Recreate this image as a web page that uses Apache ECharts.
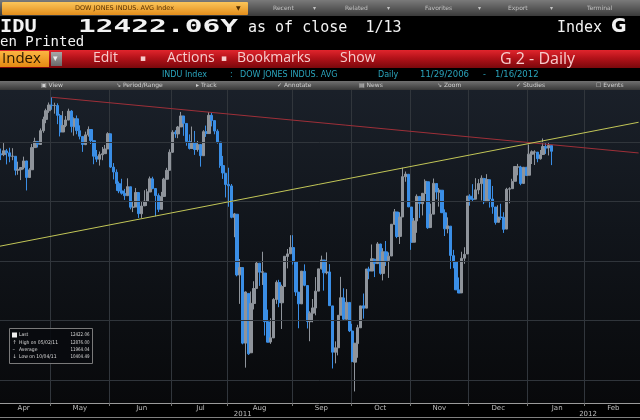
<!DOCTYPE html>
<html><head><meta charset="utf-8">
<script src="https://cdn.jsdelivr.net/npm/echarts@6/dist/echarts.min.js"></script>
<style>html,body{margin:0;padding:0;background:#000;}#c{width:640px;height:420px;}</style>
</head><body><div id="c"></div>
<script>
const dates = [
'2011-04-04','2011-04-05','2011-04-06','2011-04-07','2011-04-08','2011-04-11','2011-04-12','2011-04-13','2011-04-14','2011-04-15','2011-04-18','2011-04-19','2011-04-20','2011-04-21','2011-04-25','2011-04-26','2011-04-27','2011-04-28','2011-04-29',
'2011-05-02','2011-05-03','2011-05-04','2011-05-05','2011-05-06','2011-05-09','2011-05-10','2011-05-11','2011-05-12','2011-05-13','2011-05-16','2011-05-17','2011-05-18','2011-05-19','2011-05-20','2011-05-23','2011-05-24','2011-05-25','2011-05-26','2011-05-27','2011-05-31',
'2011-06-01','2011-06-02','2011-06-03','2011-06-06','2011-06-07','2011-06-08','2011-06-09','2011-06-10','2011-06-13','2011-06-14','2011-06-15','2011-06-16','2011-06-17','2011-06-20','2011-06-21','2011-06-22','2011-06-23','2011-06-24','2011-06-27','2011-06-28','2011-06-29','2011-06-30',
'2011-07-01','2011-07-05','2011-07-06','2011-07-07','2011-07-08','2011-07-11','2011-07-12','2011-07-13','2011-07-14','2011-07-15','2011-07-18','2011-07-19','2011-07-20','2011-07-21','2011-07-22','2011-07-25','2011-07-26','2011-07-27','2011-07-28','2011-07-29',
'2011-08-01','2011-08-02','2011-08-03','2011-08-04','2011-08-05','2011-08-08','2011-08-09','2011-08-10','2011-08-11','2011-08-12','2011-08-15','2011-08-16','2011-08-17','2011-08-18','2011-08-19','2011-08-22','2011-08-23','2011-08-24','2011-08-25','2011-08-26','2011-08-29','2011-08-30','2011-08-31',
'2011-09-01','2011-09-02','2011-09-06','2011-09-07','2011-09-08','2011-09-09','2011-09-12','2011-09-13','2011-09-14','2011-09-15','2011-09-16','2011-09-19','2011-09-20','2011-09-21','2011-09-22','2011-09-23','2011-09-26','2011-09-27','2011-09-28','2011-09-29','2011-09-30',
'2011-10-03','2011-10-04','2011-10-05','2011-10-06','2011-10-07','2011-10-10','2011-10-11','2011-10-12','2011-10-13','2011-10-14','2011-10-17','2011-10-18','2011-10-19','2011-10-20','2011-10-21','2011-10-24','2011-10-25','2011-10-26','2011-10-27','2011-10-28','2011-10-31',
'2011-11-01','2011-11-02','2011-11-03','2011-11-04','2011-11-07','2011-11-08','2011-11-09','2011-11-10','2011-11-11','2011-11-14','2011-11-15','2011-11-16','2011-11-17','2011-11-18','2011-11-21','2011-11-22','2011-11-23','2011-11-25','2011-11-28','2011-11-29','2011-11-30',
'2011-12-01','2011-12-02','2011-12-05','2011-12-06','2011-12-07','2011-12-08','2011-12-09','2011-12-12','2011-12-13','2011-12-14','2011-12-15','2011-12-16','2011-12-19','2011-12-20','2011-12-21','2011-12-22','2011-12-23','2011-12-27','2011-12-28','2011-12-29','2011-12-30',
'2012-01-03','2012-01-04','2012-01-05','2012-01-06','2012-01-09','2012-01-10','2012-01-11','2012-01-12','2012-01-13','2012-01-17','2012-01-18','2012-01-19','2012-01-20','2012-01-23','2012-01-24','2012-01-25','2012-01-26','2012-01-27','2012-01-30','2012-01-31',
'2012-02-01','2012-02-02','2012-02-03','2012-02-06','2012-02-07','2012-02-08','2012-02-09','2012-02-10','2012-02-13','2012-02-14','2012-02-15','2012-02-16','2012-02-17','2012-02-21','2012-02-22','2012-02-23','2012-02-24','2012-02-27','2012-02-28','2012-02-29'
];
const opens = [
12377,12400,12394,12425,12409,12380,12380,12263,12268,12285,12341,12202,12267,12453,12505,12479,12595,12690,12763,
12810,12806,12807,12722,12584,12638,12684,12760,12628,12695,12595,12547,12478,12560,12605,12511,12381,12355,12393,12402,12442,
12569,12289,12246,12150,12089,12069,12049,12124,11952,11954,12075,11897,11963,12003,12080,12190,12109,12050,11934,12043,12187,12262,
12414,12582,12568,12627,12719,12656,12505,12446,12492,12437,12479,12385,12587,12571,12724,12680,12591,12500,12302,12238,
12144,12131,11866,11893,11384,11445,10810,11228,10729,11143,11270,11482,11405,11399,10989,10820,10854,11176,11320,11149,11286,11538,11561,
11613,11492,11239,11140,11414,11294,10990,11062,11105,11247,11434,11508,11402,11408,11123,10733,10771,11045,11190,11010,11152,
10912,10650,10806,10939,11124,11104,11432,11416,11516,11478,11643,11396,11577,11504,11542,11808,11912,11707,11870,12208,12229,
11954,11658,11836,12043,11981,12068,12166,11781,11894,12151,12078,12095,11905,11771,11793,11545,11493,11257,11232,11524,11559,
12045,12021,12020,12097,12150,12193,11999,12183,12021,11954,11825,11869,11867,11768,12104,12108,12170,12290,12290,12152,12288,
12221,12397,12415,12415,12359,12395,12460,12450,12471
];
const closes = [
12400,12393,12426,12409,12380,12381,12263,12270,12285,12341,12202,12266,12453,12505,12480,12595,12690,12763,12811,
12807,12808,12724,12584,12639,12685,12760,12630,12695,12596,12548,12479,12560,12606,12512,12381,12356,12394,12402,12441,12570,
12290,12248,12151,12089,12070,12049,12125,11952,11953,12076,11898,11962,12004,12081,12191,12110,12050,11934,12043,12188,12262,12414,
12582,12569,12626,12719,12657,12505,12446,12491,12437,12479,12385,12587,12571,12724,12681,12592,12501,12302,12240,12143,
12132,11867,11896,11383,11445,10810,11240,10720,11144,11269,11483,11406,11410,10991,10818,10855,11177,11321,11150,11285,11540,11560,11614,
11494,11240,11140,11415,11296,10992,11062,11106,11247,11434,11509,11401,11408,11125,10734,10771,11044,11191,11011,11154,10913,
10655,10809,10940,11123,11103,11433,11416,11519,11478,11644,11397,11577,11505,11541,11809,11913,11706,11869,12209,12231,11955,
11657,11836,12044,11983,12069,12170,11780,11894,12153,12079,12096,11906,11771,11796,11547,11494,11258,11231,11523,11556,12046,
12020,12019,12098,12151,12196,11998,12184,12021,11955,11824,11869,11866,11766,12103,12107,12169,12294,12291,12151,12288,12218,
12398,12418,12416,12360,12393,12462,12449,12471,12422
];
const lows = [
12361,12348,12381,12312,12330,12347,12220,12225,12180,12270,12093,12201,12267,12453,12454,12479,12578,12658,12745,
12771,12738,12650,12547,12584,12625,12684,12580,12553,12565,12522,12417,12474,12545,12483,12313,12331,12302,12347,12402,12442,
12283,12186,12090,12070,12058,12013,12049,11934,11911,11954,11862,11862,11963,11963,12080,12103,11875,11911,11930,12043,12187,12262,
12410,12535,12532,12627,12552,12469,12437,12446,12392,12419,12293,12385,12543,12571,12631,12565,12486,12283,12190,12034,
11956,11859,11700,11371,11140,10800,10604,10711,10729,11093,11270,11291,11299,10874,10816,10804,10854,11140,11112,10929,11286,11438,11558,
11470,11207,10935,11140,11288,10933,10826,10985,11044,11247,11429,11251,11388,11124,10597,10640,10707,11045,11003,11010,10903,
10650,10404,10687,10938,11016,11104,11347,11416,11365,11478,11385,11337,11459,11358,11542,11808,11692,11643,11870,12166,11953,
11594,11658,11737,11862,11883,12001,11770,11781,11894,12018,11957,11903,11710,11733,11434,11439,11257,11231,11232,11477,11559,
11965,12004,12020,12061,12009,11978,11999,11949,11897,11806,11825,11845,11736,11768,11985,12108,12170,12220,12137,12152,12218,
12221,12315,12307,12330,12352,12395,12400,12387,12306
];
const highs = [
12438,12445,12491,12442,12452,12448,12381,12335,12290,12377,12342,12280,12484,12536,12507,12614,12713,12780,12832,
12876,12830,12825,12736,12760,12718,12780,12768,12707,12723,12640,12548,12587,12631,12605,12511,12433,12420,12458,12475,12582,
12569,12323,12270,12168,12191,12106,12195,12124,12005,12114,12075,12003,12095,12106,12210,12208,12072,12068,12081,12199,12283,12438,
12599,12599,12635,12753,12719,12656,12564,12630,12593,12509,12479,12599,12638,12752,12744,12681,12607,12500,12383,12238,
12284,12147,11904,11893,11517,11445,11245,11228,11244,11330,11499,11482,11578,11399,11092,11019,11188,11337,11342,11301,11540,11601,11717,
11717,11492,11239,11415,11472,11294,11078,11181,11365,11434,11545,11508,11573,11474,11123,10825,11044,11367,11271,11264,11152,
10972,10812,10964,11123,11227,11433,11452,11639,11517,11659,11645,11608,11668,11572,11809,11937,11912,11910,12284,12252,12229,
11954,11861,12060,12043,12072,12186,12166,11982,12193,12151,12114,12095,11934,11867,11793,11594,11493,11362,11578,11616,12046,
12061,12146,12196,12188,12220,12199,12230,12183,12131,11954,11968,11981,11910,12115,12120,12191,12294,12316,12300,12288,12288,
12479,12430,12431,12416,12433,12530,12490,12500,12471
];
const gridValues = [10500, 11000, 11500, 12000, 12500];
const redTrend = [['2011-05-02', 12876], ['2012-02-29', 12408]];
const yellowTrend = [['2011-04-04', 11622], ['2012-02-29', 12666]];
const yearLabels = [['2011-08-08', '2011'], ['2012-02-02', '2012']];
const legendLabels = ['Last', 'High on 05/02/11', 'Average', 'Low on 10/04/11'];
const legendValues = ['12422.06', '12876.00', '11964.04', '10404.49'];
const monthNames = ['Jan','Feb','Mar','Apr','May','Jun','Jul','Aug','Sep','Oct','Nov','Dec'];

const candle = opens.map((o, i) => [o, closes[i], lows[i], highs[i]]);
const monthStart = new Set(), monthLabelIdx = new Set();
let s0 = 0;
for (let i = 1; i <= dates.length; i++) {
  if (i === dates.length || dates[i].slice(0, 7) !== dates[i - 1].slice(0, 7)) {
    monthStart.add(s0);
    monthLabelIdx.add(s0 + Math.floor((i - s0) / 2));
    s0 = i;
  }
}
const yearIdx = new Map(yearLabels.map(y => [dates.indexOf(y[0]), y[1]]));
const janIdx = dates.indexOf('2012-01-03');

const chart = echarts.init(document.getElementById('c'), null, {renderer: 'canvas'});
const G = echarts.graphic.LinearGradient;
const mono = '"DejaVu Sans Mono"';
function txt(x, y, text, font, fill, extra, align) {
  return Object.assign({type: 'text', x: x, y: y, z: 10, silent: true,
    style: {text: text, font: font, fill: fill, align: align || 'left', verticalAlign: 'middle'}}, extra || {});
}
const elements = [
  {type: 'rect', shape: {x: 0, y: 0, width: 640, height: 16}, style: {fill: new G(0, 0, 0, 1, [{offset: 0, color: '#7a7a7a'}, {offset: 1, color: '#3a3a3a'}])}, z: 5},
  {type: 'rect', shape: {x: 2, y: 2, width: 246, height: 13, r: 1}, style: {fill: new G(0, 0, 0, 1, [{offset: 0, color: '#fbc55a'}, {offset: 1, color: '#e38e1c'}])}, z: 6},
  txt(75, 8.5, 'DOW JONES INDUS. AVG Index', '6.5px "DejaVu Sans"', '#5a3200'),
  txt(236, 8.5, '▼', '6px "DejaVu Sans"', '#4a2a00'),
  txt(273, 8.5, 'Recent', '6px "DejaVu Sans"', '#c4c4c4'),
  txt(313, 8.5, '▾', '6px "DejaVu Sans"', '#c4c4c4'),
  txt(345, 8.5, 'Related', '6px "DejaVu Sans"', '#c4c4c4'),
  txt(387, 8.5, '▾', '6px "DejaVu Sans"', '#c4c4c4'),
  txt(425, 8.5, 'Favorites', '6px "DejaVu Sans"', '#c4c4c4'),
  txt(478, 8.5, '▾', '6px "DejaVu Sans"', '#c4c4c4'),
  txt(508, 8.5, 'Export', '6px "DejaVu Sans"', '#c4c4c4'),
  txt(550, 8.5, '▾', '6px "DejaVu Sans"', '#c4c4c4'),
  txt(587, 8.5, 'Terminal', '6px "DejaVu Sans"', '#c4c4c4'),
  txt(0, 27, 'IDU', 'bold 18px ' + mono, '#f2f2f2', {scaleX: 1.13}),
  txt(78, 27, '12422.06Y', 'bold 18px ' + mono, '#f2f2f2', {scaleX: 1.64}),
  txt(248, 28, 'as of close  1/13', '15px ' + mono, '#f2f2f2'),
  txt(557, 28, 'Index', '15px ' + mono, '#f2f2f2'),
  txt(611, 27, 'G', 'bold 19px "DejaVu Sans"', '#f2f2f2'),
  txt(0, 42.5, 'en Printed', '14px ' + mono, '#f2f2f2'),
  {type: 'rect', shape: {x: 0, y: 50, width: 640, height: 18}, style: {fill: new G(0, 0, 0, 1, [{offset: 0, color: '#e0252d'}, {offset: 0.45, color: '#b31219'}, {offset: 1, color: '#7a080c'}])}, z: 5},
  {type: 'rect', shape: {x: 0, y: 51, width: 49, height: 16}, style: {fill: new G(0, 0, 0, 1, [{offset: 0, color: '#fbb542'}, {offset: 1, color: '#e58a12'}])}, z: 6},
  txt(2, 59, 'Index', '15px "Open Sans"', '#2a1800'),
  {type: 'rect', shape: {x: 51, y: 52, width: 11, height: 14}, style: {fill: new G(0, 0, 0, 1, [{offset: 0, color: '#a8a8a8'}, {offset: 1, color: '#6a6a6a'}])}, z: 6},
  txt(53, 59, '▾', '9px "DejaVu Sans"', '#eeeeee'),
  txt(93, 58.5, 'Edit', '14px "Open Sans"', '#f7cccc'),
  txt(140, 58.5, '▪', '9px "DejaVu Sans"', '#f7cccc'),
  txt(167, 58.5, 'Actions', '14px "Open Sans"', '#f7cccc'),
  txt(221, 58.5, '▪', '9px "DejaVu Sans"', '#f7cccc'),
  txt(237, 58.5, 'Bookmarks', '14px "Open Sans"', '#f7cccc'),
  txt(340, 58.5, 'Show', '14px "Open Sans"', '#f7cccc'),
  txt(500, 59, 'G 2 - Daily', '16px "Open Sans"', '#f7cccc'),
  txt(162, 75, 'INDU Index', '8px "DejaVu Sans"', '#2aa3bb'),
  txt(230, 75, ':', '8px "DejaVu Sans"', '#2aa3bb'),
  txt(240, 75, 'DOW JONES INDUS. AVG', '8px "DejaVu Sans"', '#2aa3bb'),
  txt(378, 75, 'Daily', '8px "DejaVu Sans"', '#2aa3bb'),
  txt(420, 75, '11/29/2006', '8.5px "DejaVu Sans"', '#2aa3bb'),
  txt(483, 75, '-', '8px "DejaVu Sans"', '#2aa3bb'),
  txt(495, 75, '1/16/2012', '8.5px "DejaVu Sans"', '#2aa3bb'),
  {type: 'rect', shape: {x: 0, y: 81, width: 640, height: 9}, style: {fill: new G(0, 0, 0, 1, [{offset: 0, color: '#707070'}, {offset: 1, color: '#383838'}])}, z: 5},
  txt(41, 85.5, '▣ View', '6px "DejaVu Sans"', '#d0d0d0'),
  txt(116, 85.5, '↘ Period/Range', '6px "DejaVu Sans"', '#d0d0d0'),
  txt(196, 85.5, '▸ Track', '6px "DejaVu Sans"', '#d0d0d0'),
  txt(277, 85.5, '✓ Annotate', '6px "DejaVu Sans"', '#d0d0d0'),
  txt(359, 85.5, '▤ News', '6px "DejaVu Sans"', '#d0d0d0'),
  txt(437, 85.5, '↘ Zoom', '6px "DejaVu Sans"', '#d0d0d0'),
  txt(516, 85.5, '✓ Studies', '6px "DejaVu Sans"', '#d0d0d0'),
  txt(596, 85.5, '☐ Events', '6px "DejaVu Sans"', '#d0d0d0'),
  {type: 'line', shape: {x1: 0, y1: 417.5, x2: 640, y2: 417.5}, style: {stroke: '#808080', lineWidth: 1}, z: 5},
  {type: 'rect', shape: {x: 9.5, y: 328.5, width: 83, height: 35}, style: {fill: 'rgba(8,10,14,0.9)', stroke: '#7a7a7a', lineWidth: 1}, z: 8},
  {type: 'rect', shape: {x: 12, y: 332.5, width: 5, height: 5}, style: {fill: '#eeeeee'}, z: 9},
  txt(12.5, 342.5, '↑', '5px "DejaVu Sans"', '#dddddd'),
  txt(12.5, 349.5, '–', '5px "DejaVu Sans"', '#dddddd'),
  txt(12.5, 357, '↓', '5px "DejaVu Sans"', '#dddddd')
];
legendLabels.forEach((lab, i) => {
  const y = 335 + i * 7.3;
  elements.push(txt(19, y, lab, '5px "DejaVu Sans"', '#d8d8d8', {scaleX: 0.9}));
  elements.push(txt(89.5, y, legendValues[i], '5px "DejaVu Sans"', '#d8d8d8', {scaleX: 0.8}, 'right'));
});

const option = {
  backgroundColor: '#000',
  animation: false,
  grid: {
    left: -3, right: 0, top: 90, bottom: 17, outerBoundsMode: 'none', containLabel: false,
    show: true, borderWidth: 0,
    backgroundColor: new G(0, 0, 0, 1, [{offset: 0, color: '#1a2029'}, {offset: 0.45, color: '#11151b'}, {offset: 1, color: '#08090b'}])
  },
  xAxis: [{
    type: 'category', data: dates, boundaryGap: true,
    axisLine: {show: true, lineStyle: {color: '#9a9a9a', width: 1}},
    axisTick: {show: true, interval: (i) => monthStart.has(i), length: 3, lineStyle: {color: '#777'}},
    axisLabel: {interval: (i) => monthLabelIdx.has(i), formatter: (v) => monthNames[+v.slice(5, 7) - 1],
      color: '#bdbdbd', fontSize: 7, margin: 2, fontFamily: 'DejaVu Sans'},
    splitLine: {show: true, interval: (i) => monthStart.has(i), lineStyle: {color: '#31363c', width: 1}}
  }, {
    type: 'category', data: dates, boundaryGap: true, position: 'bottom', offset: 7, gridIndex: 0,
    axisLine: {show: false},
    axisTick: {show: true, interval: (i) => i === janIdx, length: 7, lineStyle: {color: '#777'}},
    axisLabel: {interval: (i) => yearIdx.has(i), formatter: (v) => yearIdx.get(dates.indexOf(v)) || '',
      color: '#bdbdbd', fontSize: 7, margin: 1, fontFamily: 'DejaVu Sans'},
    splitLine: {show: false}
  }],
  yAxis: {type: 'value', min: 10307, max: 12937, show: false, splitLine: {show: false}},
  series: [{
    type: 'line', data: [], z: 1, silent: true, xAxisIndex: 0,
    markLine: {silent: true, symbol: ['none', 'none'], label: {show: false}, animation: false,
      lineStyle: {color: '#30353b', type: 'solid', width: 1},
      data: gridValues.map(v => ({yAxis: v}))}
  }, {
    type: 'candlestick', data: candle, xAxisIndex: 0, z: 3, barWidth: '100%',
    itemStyle: {color: '#8f949b', color0: '#3a8ee6', borderColor: '#8f949b', borderColor0: '#3a8ee6', borderWidth: 1}
  }, {
    type: 'line', data: [], z: 5, silent: true, xAxisIndex: 0,
    markLine: {silent: true, symbol: ['none', 'none'], label: {show: false}, animation: false,
      data: [
        [{coord: redTrend[0], lineStyle: {color: '#9e2f38', width: 1, type: 'solid'}}, {coord: redTrend[1]}],
        [{coord: yellowTrend[0], lineStyle: {color: '#c2c657', width: 1, type: 'solid'}}, {coord: yellowTrend[1]}]
      ]}
  }],
  graphic: {elements: elements}
};
chart.setOption(option);
</script>
</body></html>
